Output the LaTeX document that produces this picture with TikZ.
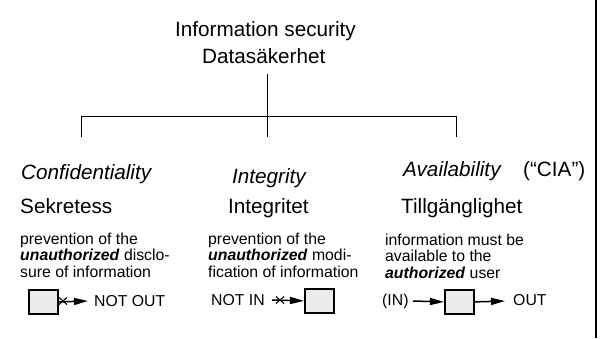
\documentclass[tikz,border=0pt]{standalone}
\usepackage{fontspec}
\setmainfont{Liberation Sans}
\usetikzlibrary{arrows.meta,shapes.misc}
\definecolor{boxfill}{RGB}{236,236,236}
\begin{document}
\begin{tikzpicture}[x=1pt,y=-1pt,
  big/.style={anchor=base west,inner sep=0pt,font=\fontsize{20.7}{24}\selectfont},
  small/.style={anchor=base west,inner sep=0pt,align=left,font=\fontsize{15.8}{16.5}\selectfont},
  tree/.style={line width=1pt},
  sbox/.style={draw,line width=1.8pt,fill=boxfill,minimum width=29pt,minimum height=24pt,inner sep=0pt,anchor=north west},
  arr/.style={line width=1.5pt,-{Triangle[length=14pt,width=7pt]}},
  xmark/.style={cross out,draw,line width=1.1pt,minimum width=7pt,minimum height=6pt,inner sep=0pt}]
\useasboundingbox (0,0) rectangle (604,338);
% title
\node[big] (t1) at (175,36) {Information security};
\node[big] (t2) at (202,63) {Datasäkerhet};
% tree
\coordinate (top) at (267,74);
\coordinate (mid) at (267,116);
\coordinate (l) at (81,116);
\coordinate (r) at (456,116);
\coordinate (ld) at (81,137);
\coordinate (md) at (267,137);
\coordinate (rd) at (456,137);
\draw[tree] (top) -- (md);
\draw[tree] (ld) -- (l) -- (r) -- (rd);
% right edge
\draw[line width=2.8pt] (596,0) -- (596,338);
% headings
\node[big,font=\fontsize{20.7}{24}\selectfont\itshape] (c1) at (21,179) {Confidentiality};
\node[big,font=\fontsize{20.7}{24}\selectfont\itshape] (i1) at (232,183) {Integrity};
\node[big,font=\fontsize{20.7}{24}\selectfont\itshape] (a1) at (403,176) {Availability};
\node[big] (cia) at (523,176) {(“CIA”)};
\node[big] (c2) at (20,213) {Sekretess};
\node[big] (i2) at (228,213) {Integritet};
\node[big] (a2) at (401,213) {Tillgänglighet};
% descriptions (anchor = baseline of last line)
\node[small] (c3) at (20,277) {prevention of the\\\textbf{\textit{unauthorized}} disclo-\\sure of information};
\node[small] (i3) at (208,277) {prevention of the\\\textbf{\textit{unauthorized}} modi-\\fication of information};
\node[small] (a3) at (385,278) {information must be\\available to the\\\textbf{\textit{authorized}} user};
% confidentiality
\node[sbox] (b1) at (28,289) {};
\node[small] (nout) at (94,306) {NOT OUT};
\coordinate (e1) at (88,301);
\draw[arr] (b1.east) -- (e1);
\node[xmark] (x1) at (63,301) {};
% integrity
\node[sbox] (b2) at (304,288) {};
\node[small] (nin) at (211,305) {NOT IN};
\coordinate (s2) at (272,300);
\draw[arr] (s2) -- (b2.west);
\node[xmark] (x2) at (280,300) {};
% availability
\node[sbox] (b3) at (444,289) {};
\node[small] (in) at (382,305) {(IN)};
\node[small] (out) at (513,305) {OUT};
\coordinate (s3) at (413,301);
\coordinate (e3) at (505,301);
\draw[arr] (s3) -- (b3.west);
\draw[arr] (b3.east) -- (e3);
\end{tikzpicture}
\end{document}
